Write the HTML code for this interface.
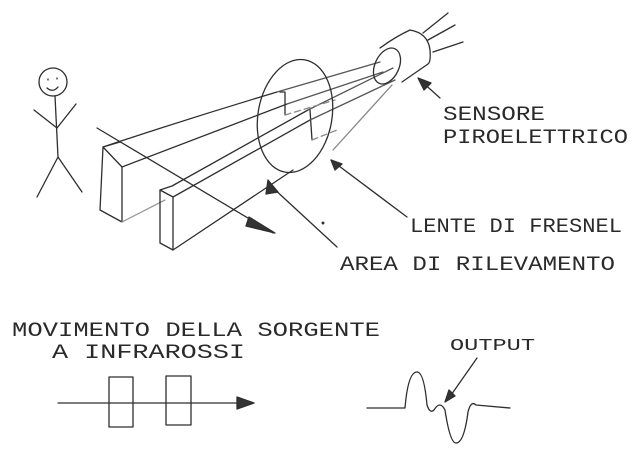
<!DOCTYPE html>
<html><head><meta charset="utf-8"><style>
html,body{margin:0;padding:0;background:#fff}
svg{display:block}
text{font-family:"Liberation Mono","DejaVu Sans Mono",monospace;fill:#2a2a2a;font-size:20px}
</style></head><body>
<svg width="640" height="457" viewBox="0 0 640 457" xmlns="http://www.w3.org/2000/svg">
<g fill="none" stroke="#2e2e2e" stroke-width="1.3" stroke-linecap="round" stroke-linejoin="round">
<!-- stick figure -->
<circle cx="53" cy="82" r="14"/>
<path d="M48 79 l0 1 M57 78 l0 1 M47 88 q6 5 11 -1"/>
<path d="M55 96 L58 157 L37 197 M58 157 L82 192"/>
<path d="M34 110 L57 128 L76 104"/>
<!-- slab 1 -->
<path d="M103 147 L100 210 L122 222 L122 167 Z"/>
<path d="M103 147 L120 142 M103 147 Q190 118 277 92"/>
<path d="M122 167 Q205 135 287 104"/>
<path d="M122 222 L165 200" stroke="#999"/>
<!-- slab 2 -->
<path d="M160 190 L160 243 L173 250 L173 197 Z"/>
<path d="M160 190 L172 186 L308 110"/>
<path d="M173 197 L310 120"/>
<path d="M173 250 L293 170"/>
<!-- verticals -->
<path d="M280 92 L285 92 L285 115 M310 110 L312 140"/>
<!-- rays to sensor -->
<path d="M277 92 L380 62 M287 104 L383 72 M308 110 L393 68 M310 120 L395 80" stroke="#555"/>
<path d="M285 115 L335 100 M312 140 L337 130" stroke="#888" stroke-dasharray="6 4"/>
<path d="M333 150 L392 85" stroke="#888"/>
<!-- lens -->
<ellipse cx="295" cy="116" rx="37" ry="57" transform="rotate(10 295 116)"/>
<!-- sensor -->
<ellipse cx="387" cy="66" rx="12" ry="19" transform="rotate(25 387 66)"/>
<path d="M380 48 Q395 37 410 30 Q428 33 430 50 Q431 62 428 64 L402 82"/>
<path d="M423 33 L448 13 M428 40 L455 25 M433 52 L463 42"/>
<!-- arrows -->
<path d="M97 128 L273 233"/>
<path d="M249 217 L275 233 L246 226 Z" fill="#333"/>
<path d="M337 247 L272 187"/>
<path d="M268 180 L278 192 L266 194 Z" fill="#333"/>
<path d="M407 217 L331 160"/>
<path d="M331 160 L342 164 L335 170 Z" fill="#333"/>
<path d="M440 98 L420 80"/>
<path d="M418 78 L431 83 L424 90 Z" fill="#333"/>
<circle cx="323" cy="223" r="0.8" fill="#555"/>
<!-- bottom motion -->
<path d="M58 403 L245 403"/>
<path d="M237 397 L254 403 L237 409 Z" fill="#333"/>
<rect x="109" y="377" width="24" height="50"/>
<rect x="166" y="376" width="25" height="49"/>
<!-- waveform -->
<path d="M367 408 L405 408 Q408 372 417 372 Q424 372 427 405 Q430 414 434 410 Q440 400 445 410 Q450 443 456 443 Q464 443 468 412 Q471 400 476 405 L510 408"/>
<path d="M477 358 L449 398"/>
<path d="M445 402 L449 390 L455 396 Z" fill="#333"/>
</g>
<text x="443" y="120" textLength="102" lengthAdjust="spacingAndGlyphs">SENSORE</text>
<text x="443" y="143" textLength="185" lengthAdjust="spacingAndGlyphs">PIROELETTRICO</text>
<text x="410" y="232" textLength="212" lengthAdjust="spacingAndGlyphs">LENTE DI FRESNEL</text>
<text x="340" y="270" textLength="275" lengthAdjust="spacingAndGlyphs">AREA DI RILEVAMENTO</text>
<text x="12" y="336" textLength="368" lengthAdjust="spacingAndGlyphs">MOVIMENTO DELLA SORGENTE</text>
<text x="52" y="358" textLength="193" lengthAdjust="spacingAndGlyphs">A INFRAROSSI</text>
<text x="450" y="350" textLength="85" lengthAdjust="spacingAndGlyphs" style="font-size:17px">OUTPUT</text>
</svg>
</body></html>
